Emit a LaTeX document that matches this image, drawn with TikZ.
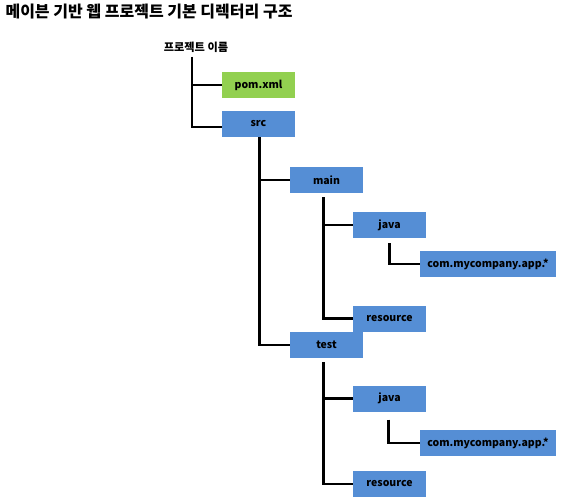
\documentclass[tikz,border=0pt]{standalone}
\usepackage{fontspec}
\setmainfont{Noto Sans CJK KR}
\definecolor{mavenblue}{RGB}{85,142,213}
\definecolor{mavengreen}{RGB}{146,208,80}

\begin{document}
\begin{tikzpicture}[x=1pt, y=-1pt, font=\bfseries\fontsize{10.5}{12}\selectfont,
  folder/.style={fill=mavenblue, minimum width=73pt, minimum height=26pt, inner sep=0pt},
  branch/.style={line width=2.8pt, black}]
\useasboundingbox (0,0) rectangle (564,503);

\node[anchor=west, font=\bfseries\fontsize{16}{18}\selectfont] (title) at (2,12) {메이븐 기반 웹 프로젝트 기본 디렉터리 구조};
\node[font=\bfseries\fontsize{11.2}{13}\selectfont] (root) at (196,47) {프로젝트 이름};

% first level
\node[folder, fill=mavengreen] (pom) at (258.5,85) {pom.xml};
\node[folder] (src) at (258.5,124) {src};

% src/main
\node[folder] (main) at (326.5,180) {main};
\node[folder] (java1) at (389.5,225) {java};
\node[folder, minimum width=136pt] (com1) at (488,264) {com.mycompany.app.*};
\node[folder] (res1) at (389.5,318.5) {resource};

% src/test
\node[folder] (test) at (326.5,345) {test};
\node[folder] (java2) at (389.5,398.5) {java};
\node[folder, minimum width=136pt] (com2) at (488,443) {com.mycompany.app.*};
\node[folder] (res2) at (389.5,484) {resource};

% connectors
\draw[branch] ([xshift=-4pt,yshift=-1pt]root.south) |- (pom.west);
\draw[branch] ([xshift=-4pt,yshift=-1pt]root.south) |- ([yshift=-3pt]src.west);
\draw[branch] ([xshift=1pt]src.south) |- (main.west);
\draw[branch] ([xshift=1pt]src.south) |- (test.west);
\draw[branch] ([xshift=-3pt,yshift=-4pt]main.south) |- (java1.west);
\draw[branch] ([xshift=-3pt,yshift=-4pt]main.south) |- (res1.west);
\draw[branch] ([yshift=-5pt]java1.south) |- (com1.west);
\draw[branch] ([xshift=-3pt,yshift=-4pt]test.south) |- (java2.west);
\draw[branch] ([xshift=-3pt,yshift=-4pt]test.south) |- (res2.west);
\draw[branch] ([xshift=-1pt,yshift=-8pt]java2.south) |- (com2.west);

\end{tikzpicture}
\end{document}
